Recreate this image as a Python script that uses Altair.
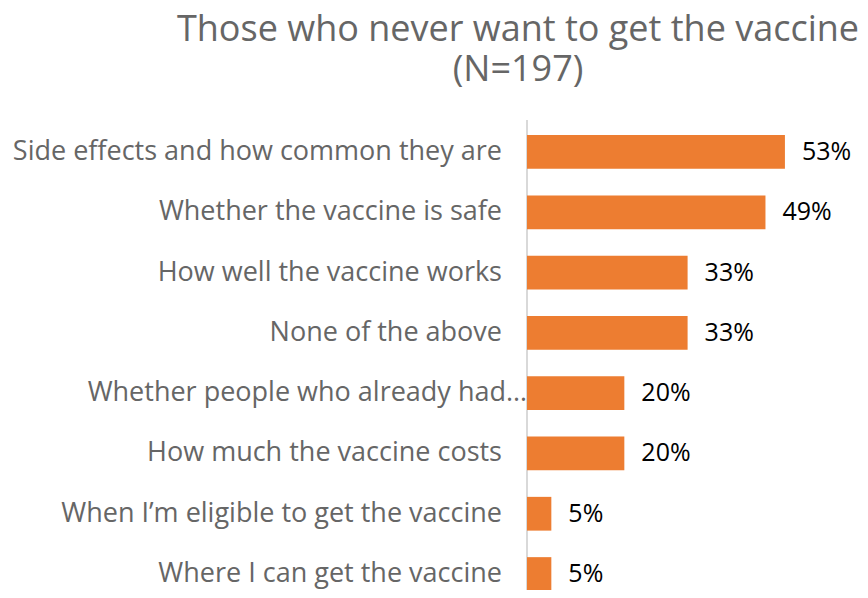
import altair as alt
import pandas as pd

categories = [
    "Side effects and how common they are",
    "Whether the vaccine is safe",
    "How well the vaccine works",
    "None of the above",
    "Whether people who already had…",
    "How much the vaccine costs",
    "When I’m eligible to get the vaccine",
    "Where I can get the vaccine",
]
values = [53, 49, 33, 33, 20, 20, 5, 5]
value_labels = ["53%", "49%", "33%", "33%", "20%", "20%", "5%", "5%"]
truncated = [False, False, False, False, True, False, False, False]

df = pd.DataFrame({
    "category": categories,
    "value": values,
    "label": value_labels,
    "truncated": truncated,
})

LABEL_FONT = "Open Sans"
GRAY = "#666666"

y = alt.Y(
    "category:N",
    sort=categories,
    axis=None,
    scale=alt.Scale(paddingInner=0.44, paddingOuter=0.217, range=[0, 482]),
)
x = alt.X("value:Q", scale=alt.Scale(domain=[0, 60]), axis=None)

bars = alt.Chart(df).mark_bar(color="#ED7D31").encode(x=x, y=y)

value_text = alt.Chart(df).mark_text(
    align="left", baseline="middle", dx=17, font=LABEL_FONT, fontSize=25, color="#000000"
).encode(x=x, y=y, text="label:N")

cat_text = alt.Chart(df).transform_filter("!datum.truncated").mark_text(
    align="right", baseline="middle", font=LABEL_FONT, fontSize=27, color=GRAY
).encode(x=alt.value(-25), y=y, text="category:N")

cat_text_trunc = alt.Chart(df).transform_filter("datum.truncated").mark_text(
    align="right", baseline="middle", font=LABEL_FONT, fontSize=27, color=GRAY
).encode(x=alt.value(0), y=y, text="category:N")

axis_line = alt.Chart(pd.DataFrame({"a": [0]})).mark_rule(
    color="#D9D9D9", strokeWidth=2
).encode(x=alt.value(0), y=alt.value(-2), y2=alt.value(482))

chart = alt.layer(axis_line, bars, value_text, cat_text, cat_text_trunc).properties(
    width=292,
    height=468,
    autosize=alt.AutoSizeParams(type="none"),
    padding={"left": 519, "top": 114, "right": 41, "bottom": 0},
    background="white",
    title=alt.TitleParams(
        ["Those who never want to get the vaccine", "(N=197)"],
        font=LABEL_FONT,
        fontSize=36,
        fontWeight="normal",
        color=GRAY,
        anchor="middle",
        frame="group",
        dx=-155,
        lineHeight=40,
        offset=30,
    ),
).configure_view(strokeWidth=0)

chart.save("out.html", embed_options={"renderer": "svg", "actions": False})
